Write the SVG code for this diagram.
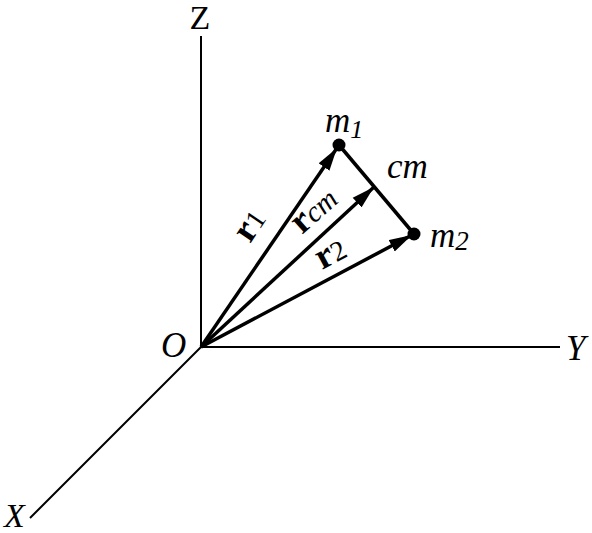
<svg xmlns="http://www.w3.org/2000/svg" width="592" height="533" viewBox="0 0 592 533">
<defs>
<marker id="ah" markerUnits="userSpaceOnUse" markerWidth="25" markerHeight="14" refX="23" refY="7" orient="auto">
<path d="M0,0.5 L23,7 L0,13.5 Z" fill="#000"/>
</marker>
</defs>
<style>
.ax{stroke:#000;stroke-width:2;fill:none}
.vec{stroke:#000;stroke-width:3.5;fill:none}
.t{font-family:"Liberation Serif","Times New Roman",serif;fill:#000}
.i{font-style:italic}
.b{font-weight:bold}
</style>
<rect width="592" height="533" fill="#fff"/>
<g id="axes">
<line class="ax" x1="201" y1="347" x2="201" y2="36"/>
<line class="ax" x1="201" y1="347" x2="560" y2="347"/>
<line class="ax" x1="201" y1="347" x2="30" y2="518"/>
</g>
<g id="axis-labels">
<text class="t" x="200" y="29" font-size="34" text-anchor="middle">Z</text>
<text class="t i" x="566" y="360" font-size="35">Y</text>
<text class="t i" x="4" y="527" font-size="34">X</text>
<text class="t i" x="161" y="357" font-size="35">O</text>
</g>
<g id="connectors">
<line class="vec" x1="201" y1="347" x2="337" y2="148" marker-end="url(#ah)"/>
<line class="vec" x1="201" y1="347" x2="374" y2="187" marker-end="url(#ah)"/>
<line class="vec" x1="201" y1="347" x2="412" y2="235" marker-end="url(#ah)"/>
<line class="vec" x1="339" y1="145" x2="414" y2="234" stroke-width="3"/>
</g>
<g id="m1">
<circle cx="339" cy="145" r="6.5" fill="#000"/>
<text class="t i" x="325" y="132" font-size="35">m<tspan font-size="26" dy="6">1</tspan></text>
</g>
<g id="m2">
<circle cx="414" cy="234" r="6.5" fill="#000"/>
<text class="t i" x="430" y="247" font-size="35">m<tspan font-size="27" dy="3">2</tspan></text>
</g>
<g id="cm">
<text class="t i" x="387" y="178" font-size="35">cm</text>
</g>
<g id="vector-labels">
<text class="t" font-size="37" transform="translate(250,244) rotate(-56)"><tspan class="b">r</tspan><tspan font-size="28">1</tspan></text>
<text class="t" font-size="37" transform="translate(302,235) rotate(-41.7)"><tspan class="b">r</tspan><tspan class="i" font-size="29">cm</tspan></text>
<text class="t" font-size="37" transform="translate(322,270) rotate(-28)"><tspan class="b">r</tspan><tspan font-size="28">2</tspan></text>
</g>
</svg>
